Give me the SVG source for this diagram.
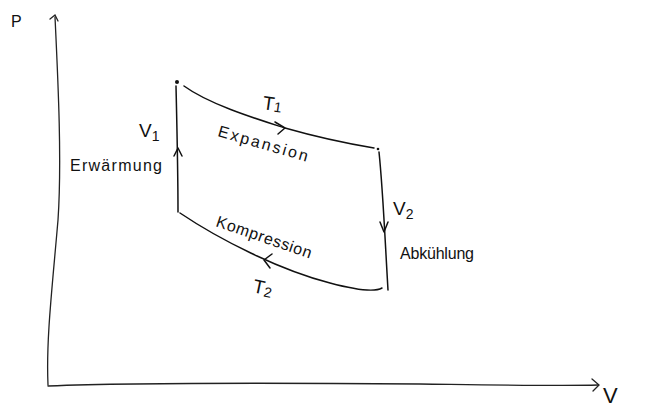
<svg xmlns="http://www.w3.org/2000/svg" width="646" height="410" viewBox="0 0 646 410">
<style>
.ln{fill:none;stroke:#111;stroke-width:1.5;stroke-linecap:round;stroke-linejoin:round}
.ax{fill:none;stroke:#222;stroke-width:1.3;stroke-linecap:round}
.t{font-family:"Liberation Sans","DejaVu Sans",sans-serif;font-size:16px;fill:#111}
.s{font-size:19px}
.big{font-size:22px}
</style>
<rect width="646" height="410" fill="#fff"/>
<g id="axes">
  <path class="ax" d="M55,17 C58,80 62,160 58,220 C52,290 46,340 48,385"/>
  <path class="ax" d="M50,19 L55,15 L58,21"/>
  <path class="ax" d="M48,386 C150,382 300,383 420,384 C500,385 560,386 598,385"/>
  <path class="ax" d="M592,379 L599,385 L593,391"/>
  <text class="t" x="11" y="27">P</text>
  <text class="t big" x="603" y="403">V</text>
</g>
<g id="connectors">
  <path class="ln" d="M176,86 C177,130 178,170 178,212"/>
  <path class="ln" d="M174,156 L178,148 L182,156"/>
  <path class="ln" d="M184,86 C210,105 260,120 285,128 C320,138 350,144 374,148"/>
  <path class="ln" d="M275,122 L285,128 L278,134"/>
  <path class="ln" d="M379,152 C383,190 385,240 388,290"/>
  <path class="ln" d="M380,222 L384,232 L388,222"/>
  <path class="ln" d="M180,213 C220,240 280,270 330,283 C360,291 375,292 382,288"/>
  <path class="ln" d="M272,254 L264,260 L270,268"/>
</g>
<g id="point1"><circle cx="177" cy="82" r="2" fill="#111"/></g>
<g id="point2"><circle cx="378" cy="149" r="1.3" fill="#111"/></g>
<g id="labels">
  <text class="t s" x="139" y="137">V<tspan font-size="14" dy="4">1</tspan></text>
  <text class="t" x="70" y="171" textLength="92" lengthAdjust="spacing">Erwärmung</text>
  <text class="t s" x="262" y="109" transform="rotate(8 262 109)">T<tspan font-size="14" dy="1">1</tspan></text>
  <text class="t" x="217" y="136" transform="rotate(16 217 136)" textLength="93" lengthAdjust="spacing">Expansion</text>
  <text class="t s" x="393" y="215">V<tspan font-size="14" dy="4">2</tspan></text>
  <text class="t" x="400" y="259" textLength="74" lengthAdjust="spacing">Abkühlung</text>
  <text class="t" x="215" y="226" transform="rotate(19 215 226)" textLength="100" lengthAdjust="spacing">Kompression</text>
  <text class="t s" x="252" y="292" transform="rotate(12 252 292)">T<tspan font-size="14" dy="2">2</tspan></text>
</g>
</svg>
